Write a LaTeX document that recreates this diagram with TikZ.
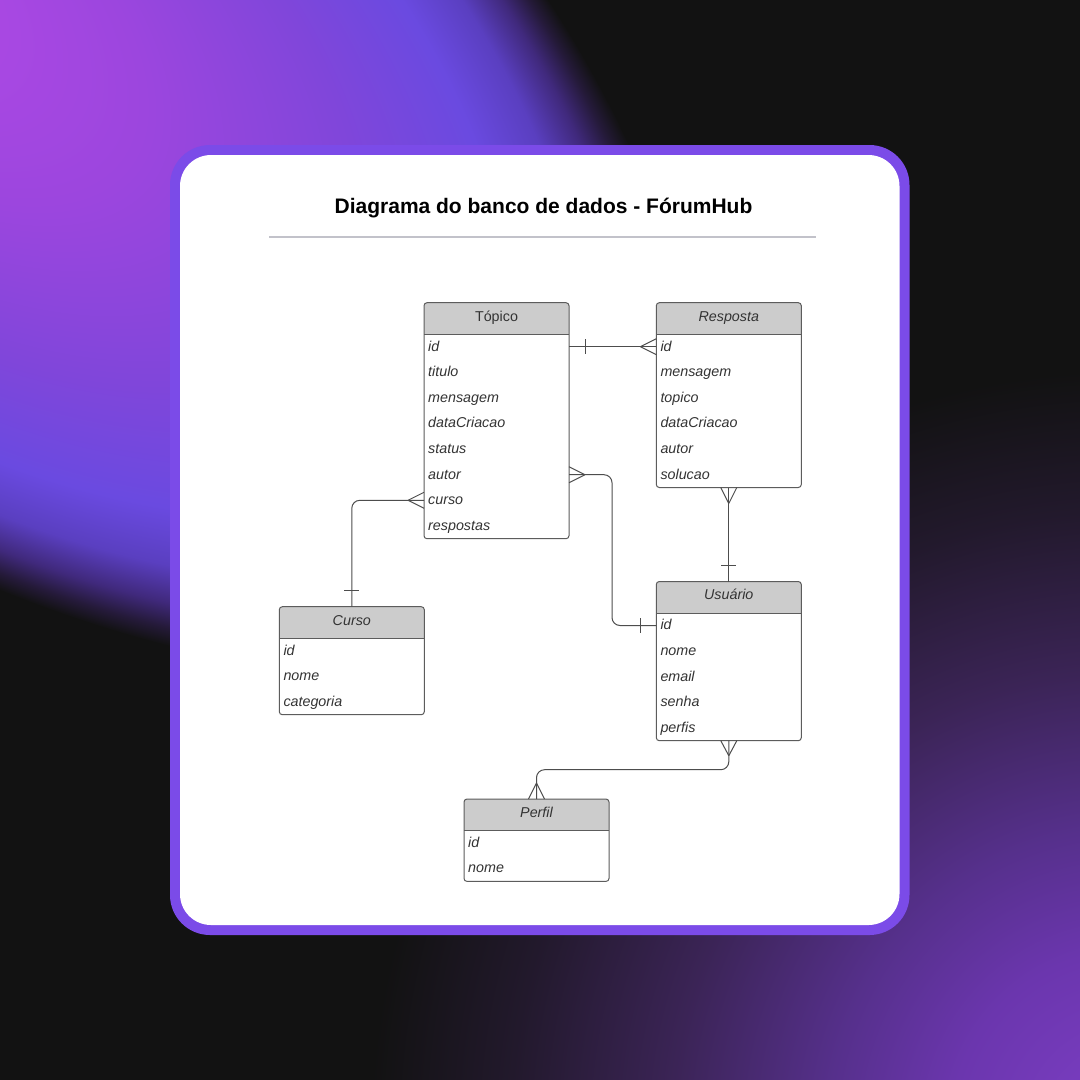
\documentclass[tikz,border=0pt]{standalone}
\usepackage{fontspec}
\setmainfont{Liberation Sans}
\usetikzlibrary{calc}

\definecolor{bgdark}{HTML}{121212}
\definecolor{tlA}{HTML}{B54AE7}
\definecolor{tlB}{HTML}{9C46DE}
\definecolor{tlC}{HTML}{8046DA}
\definecolor{tlD}{HTML}{6A4AE0}
\definecolor{tlE}{HTML}{5A3FC0}
\definecolor{tlF}{HTML}{40297C}
\definecolor{tlG}{HTML}{251A3A}
\definecolor{brA}{HTML}{7E3FC6}
\definecolor{brB}{HTML}{6B36AE}
\definecolor{brC}{HTML}{56308C}
\definecolor{brD}{HTML}{3B2456}
\definecolor{brE}{HTML}{22192C}
\definecolor{cardborder}{HTML}{7B4BE8}
\definecolor{rulec}{HTML}{C2C2CA}
\definecolor{hdrgray}{HTML}{CCCCCC}
\definecolor{entlinec}{HTML}{5C5C5C}
\definecolor{txtc}{HTML}{333333}
\definecolor{connc}{HTML}{4D4D4D}

\pgfdeclareradialshading{tlglow}{\pgfpoint{0bp}{0bp}}{color(0bp)=(tlA); color(8.75bp)=(tlB); color(15bp)=(tlC); color(19.5bp)=(tlD); color(21.75bp)=(tlE); color(23.25bp)=(tlF); color(24.25bp)=(tlG); color(25bp)=(bgdark); color(50bp)=(bgdark)}
\pgfdeclareradialshading{brglow}{\pgfpoint{0bp}{0bp}}{color(0bp)=(brA); color(5.9bp)=(brB); color(9.9bp)=(brC); color(15.1bp)=(brD); color(20.4bp)=(brE); color(25bp)=(bgdark); color(50bp)=(bgdark)}

\tikzset{
  entbox/.style={anchor=north west, minimum width=145pt, inner sep=0pt, outer sep=0pt, fill=white},
  entline/.style={draw=entlinec, line width=1pt},
  enttitle/.style={anchor=base, inner sep=0pt, text=txtc, font=\fontsize{14.3}{17}\selectfont},
  entfield/.style={anchor=base west, inner sep=0pt, text=txtc, font=\fontsize{14.3}{17}\selectfont\itshape},
  conn/.style={draw=connc, line width=1pt},
  titlest/.style={anchor=base, inner sep=0pt, text=black, font=\fontsize{21}{25}\selectfont\bfseries}
}

% name, x, y(top), number of rows, title, fields
\newcommand{\erent}[6]{%
  \pgfmathsetmacro{\enth}{31.2+25.6*#4}
  \node[entbox, minimum height=\enth pt] (#1) at (#2,#3) {};
  \fill[hdrgray, rounded corners=3pt] (#2,#3) rectangle ++(145,31.5);
  \fill[hdrgray] (#2,#3+15) rectangle ++(145,16.5);
  \draw[entline, rounded corners=3pt] (#2,#3) rectangle ++(145,\enth);
  \draw[entline] (#2,#3+31.5) -- ++(145,0);
  \node[enttitle] (#1-title) at (#2+72.5,#3+18.3) {#5};
  \foreach \fld [count=\i] in {#6} {
    \node[entfield] (#1-\fld) at (#2+4,#3+22.7+25.6*\i) {\fld};
  }
}

\begin{document}
\begin{tikzpicture}[x=1pt,y=-1pt]
\useasboundingbox (0,0) rectangle (1080,1080);
\clip (0,0) rectangle (1080,1080);

% background
\fill[bgdark] (0,0) rectangle (1080,1080);
\begin{scope}[transform canvas={shift={(-150,-50)}, rotate=-38}]
  \shade[shading=tlglow] (0,0) ellipse [x radius=1000, y radius=480];
\end{scope}
\shade[shading=brglow] (1130,1130) circle (760);

% card
\fill[cardborder, rounded corners=40pt] (170,145) rectangle (909.5,935);
\fill[white, rounded corners=31pt] (180,155) rectangle (899.5,925);

% title
\node[titlest] (title) at (543.5,213) {Diagrama do banco de dados - FórumHub};
\draw[rulec, line width=1.5pt] (269,237) -- (816,237);

% entities
\erent{topico}{424}{302.7}{8}{Tópico}{id,titulo,mensagem,dataCriacao,status,autor,curso,respostas}
\erent{resposta}{656.3}{302.7}{6}{\itshape Resposta}{id,mensagem,topico,dataCriacao,autor,solucao}
\erent{curso}{279.3}{606.7}{3}{\itshape Curso}{id,nome,categoria}
\erent{usuario}{656.3}{581.5}{5}{\itshape Usuário}{id,nome,email,senha,perfis}
\erent{perfil}{464}{799}{2}{\itshape Perfil}{id,nome}

% Topico -- Resposta
\coordinate (tr1) at ($(topico.east |- topico-id.base)+(0,-4.3)$);
\coordinate (rs1) at ($(resposta.west |- topico-id.base)+(0,-4.3)$);
\draw[conn] (tr1) -- (rs1);
\draw[conn] ($(tr1)+(16,-7.5)$) -- ++(0,15);
\draw[conn] ($(rs1)+(-16,0)$) -- ++(16,-8) ($(rs1)+(-16,0)$) -- ++(16,8);

% Topico (autor) -- Usuario (id)
\coordinate (ta) at ($(topico.east |- topico-autor.base)+(0,-4.3)$);
\coordinate (ui) at ($(usuario.west |- usuario-id.base)+(0,-4.3)$);
\coordinate (bendx) at (612,0);
\draw[conn, rounded corners=8pt] (ta) -- (bendx |- ta) -- (bendx |- ui) -- (ui);
\draw[conn] ($(ta)+(16,0)$) -- ++(-16,-8) ($(ta)+(16,0)$) -- ++(-16,8);
\draw[conn] ($(ui)+(-16,-7.5)$) -- ++(0,15);

% Topico (curso) -- Curso
\coordinate (tc) at ($(topico.west |- topico-curso.base)+(0,-4.3)$);
\draw[conn, rounded corners=8pt] (tc) -| (curso.north);
\draw[conn] ($(tc)+(-16,0)$) -- ++(16,-8) ($(tc)+(-16,0)$) -- ++(16,8);
\draw[conn] ($(curso.north)+(-7.5,-16)$) -- ++(15,0);

% Resposta -- Usuario
\draw[conn] (resposta.south) -- (usuario.north);
\draw[conn] ($(resposta.south)+(0,16)$) -- ++(-8,-16) ($(resposta.south)+(0,16)$) -- ++(8,-16);
\draw[conn] ($(usuario.north)+(-7.5,-16)$) -- ++(15,0);

% Usuario -- Perfil
\draw[conn, rounded corners=8pt] (usuario.south) -- ($(usuario.south)+(0,29)$) -| (perfil.north);
\draw[conn] ($(usuario.south)+(0,15)$) -- ++(-8,-15) ($(usuario.south)+(0,15)$) -- ++(8,-15);
\draw[conn] ($(perfil.north)+(0,-16)$) -- ++(-8,16) ($(perfil.north)+(0,-16)$) -- ++(8,16);
\end{tikzpicture}
\end{document}
